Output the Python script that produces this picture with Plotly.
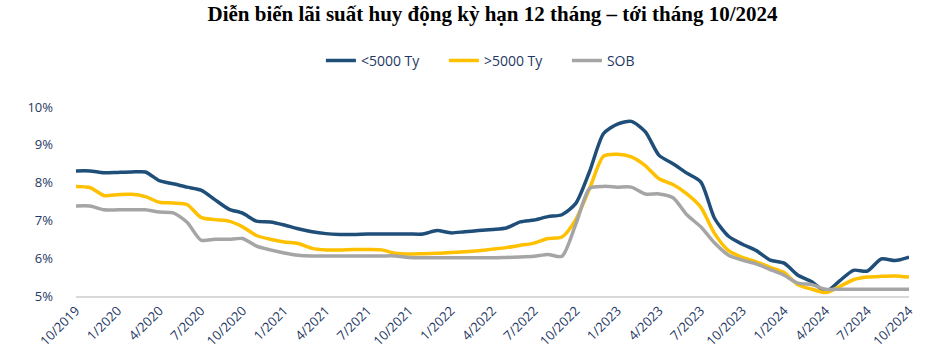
import plotly.graph_objects as go

# Monthly observations, 10/2019 .. 10/2024
months = [f"{m}/{y}" for y in range(2019, 2025) for m in range(1, 13)]
months = months[months.index("10/2019"):months.index("10/2024") + 1]

small_banks = [8.31, 8.31, 8.26, 8.27, 8.28, 8.28, 8.05, 7.97, 7.88, 7.80,
               7.55, 7.30, 7.19, 6.98, 6.96, 6.88, 6.78, 6.70, 6.65, 6.63,
               6.63, 6.64, 6.64, 6.64, 6.64, 6.64, 6.73, 6.67, 6.70, 6.73,
               6.76, 6.80, 6.96, 7.01, 7.10, 7.15, 7.45, 8.30, 9.30, 9.55,
               9.62, 9.35, 8.72, 8.50, 8.25, 8.02, 7.05, 6.58, 6.37, 6.20,
               5.95, 5.87, 5.55, 5.38, 5.12, 5.40, 5.68, 5.66, 5.98, 5.94,
               6.03]
large_banks = [7.90, 7.87, 7.66, 7.68, 7.69, 7.63, 7.48, 7.46, 7.42, 7.08,
               7.02, 6.98, 6.83, 6.60, 6.50, 6.43, 6.39, 6.26, 6.22, 6.22,
               6.23, 6.23, 6.22, 6.13, 6.11, 6.12, 6.13, 6.15, 6.17, 6.20,
               6.24, 6.28, 6.34, 6.40, 6.52, 6.56, 7.02, 7.85, 8.70, 8.75,
               8.68, 8.45, 8.10, 7.95, 7.70, 7.35, 6.65, 6.20, 6.02, 5.90,
               5.76, 5.62, 5.30, 5.18, 5.09, 5.25, 5.43, 5.50, 5.52, 5.53,
               5.50]
sob = [7.38, 7.38, 7.28, 7.28, 7.28, 7.28, 7.22, 7.20, 6.95, 6.48,
       6.50, 6.50, 6.52, 6.32, 6.22, 6.14, 6.08, 6.06, 6.06, 6.06,
       6.06, 6.06, 6.06, 6.06, 6.02, 6.01, 6.01, 6.01, 6.01, 6.01,
       6.01, 6.02, 6.03, 6.05, 6.10, 6.05, 6.90, 7.85, 7.90, 7.88,
       7.88, 7.70, 7.70, 7.60, 7.15, 6.83, 6.40, 6.08, 5.95, 5.85,
       5.70, 5.55, 5.34, 5.30, 5.18, 5.18, 5.18, 5.18, 5.18, 5.18,
       5.18]

series_names = ["<5000 Ty", ">5000 Ty", "SOB"]
series_colors = ["#1F4E79", "#FFC000", "#A5A5A5"]
tick_labels = months[::3]
y_ticks = [5, 6, 7, 8, 9, 10]

fig = go.Figure()
for name, vals, color in zip(series_names, [small_banks, large_banks, sob], series_colors):
    fig.add_trace(go.Scatter(
        x=months, y=vals, name=name, mode="lines",
        line=dict(color=color, width=3.5, shape="spline", smoothing=0.7),
    ))

fig.update_layout(
    width=946, height=348,
    margin=dict(l=76, r=37, t=107, b=52, autoexpand=False),
    plot_bgcolor="white", paper_bgcolor="white",
    title=dict(
        text="Diễn biến lãi suất huy động kỳ hạn 12 tháng – tới tháng 10/2024",
        x=0.5, xref="paper", xanchor="center", y=0.962, yref="container", yanchor="middle",
        font=dict(family="Liberation Serif", size=21, color="#000000", weight="bold"),
    ),
    legend=dict(
        orientation="h", x=0.294, xanchor="left", y=0.825, yref="container",
        yanchor="middle", font=dict(family="Open Sans", size=14, color="#1F3864"),
        tracegroupgap=0, entrywidth=78,
    ),
    showlegend=True,
)

fig.update_xaxes(
    type="category", range=[0, len(months) - 1], automargin=False,
    tickmode="array", tickvals=tick_labels, ticktext=tick_labels,
    tickangle=-45, showgrid=False, zeroline=False,
    showline=True, linecolor="#D9D9D9", linewidth=2,
    ticks="", tickfont=dict(family="Open Sans", size=13, color="#1F3864"),
)
fig.update_yaxes(
    range=[5, 10], tickvals=y_ticks, ticktext=[f"{v}%" for v in y_ticks],
    showgrid=False, zeroline=False, showline=False, ticks="", automargin=False,
    ticklabelstandoff=22,
    tickfont=dict(family="Open Sans", size=13, color="#1F3864"),
)

fig.write_html("out.html")
